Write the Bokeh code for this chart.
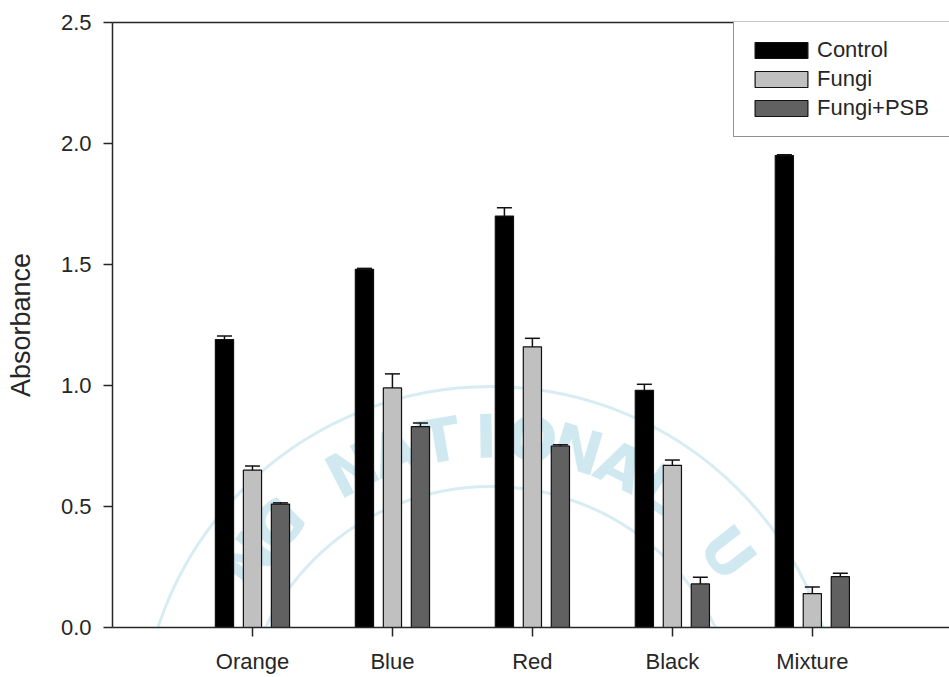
import math
from bokeh.plotting import figure
from bokeh.models import (Range1d, LinearAxis, FixedTicker, Whisker, TeeHead,
                          ColumnDataSource, Legend, LegendItem)
from bokeh.core.properties import value
from bokeh.embed import file_html
from bokeh.resources import INLINE

# Absorbance of dye solutions after treatment
dyes = ["Orange", "Blue", "Red", "Black", "Mixture"]
series_names = ["Control", "Fungi", "Fungi+PSB"]

control = [1.19, 1.48, 1.70, 0.98, 1.95]
control_err = [0.015, 0.004, 0.035, 0.025, 0.004]
fungi = [0.65, 0.99, 1.16, 0.67, 0.14]
fungi_err = [0.017, 0.058, 0.035, 0.022, 0.027]
fungi_psb = [0.51, 0.83, 0.75, 0.18, 0.21]
fungi_psb_err = [0.005, 0.015, 0.005, 0.028, 0.014]

y_ticks = [0.0, 0.5, 1.0, 1.5, 2.0, 2.5]

FONT = "Liberation Sans"
INK = "#262626"

X_END, Y_END = 5.98, 2.5
FRAME_W, FRAME_H = 837, 605

p = figure(width=949, height=677, output_backend="svg", toolbar_location=None,
           x_range=Range1d(0, X_END), y_range=Range1d(0, Y_END),
           min_border_left=112, min_border_right=0, min_border_top=22,
           min_border_bottom=50, x_axis_type=None, y_axis_type=None)
p.outline_line_color = None
p.xgrid.visible = False
p.ygrid.visible = False
p.background_fill_color = "white"
p.border_fill_color = "white"

# faint seal watermark printed behind the chart
px_x = FRAME_W / X_END
px_y = FRAME_H / Y_END
seal_cx, seal_cy = 378 / px_x, -109 / px_y
seal_r = 300
seal_text = "PUKYONG NATIONAL UNIVERSITY"
wx, wy, wl, wa = [], [], [], []
for i, ch in enumerate(seal_text):
    if ch == " ":
        continue
    th = math.radians(152.8 + 8.85 * (4 - i))
    y = seal_cy + seal_r * math.sin(th) / px_y
    if y < 0.2:          # keep only letters that sit fully inside the frame
        continue
    wx.append(seal_cx + seal_r * math.cos(th) / px_x)
    wy.append(y)
    wl.append(ch)
    wa.append(th - math.pi / 2)
for rr in (250, 350):
    p.arc(x=seal_cx, y=seal_cy, radius=rr, radius_units="screen",
          start_angle=0, end_angle=2 * math.pi, line_color="#d8ecf3",
          line_width=3, level="underlay")
p.text(x=wx, y=wy, text=wl, angle=wa, text_align="center",
       text_baseline="middle", text_font=value("DejaVu Sans"),
       text_font_style="bold", text_font_size="60px", text_color="#c4e3ee",
       text_alpha=0.8, level="underlay")

# axes
xaxis = LinearAxis(ticker=FixedTicker(ticks=list(range(1, len(dyes) + 1))),
                   major_label_overrides={i + 1: d for i, d in enumerate(dyes)})
yaxis = LinearAxis(ticker=FixedTicker(ticks=y_ticks),
                   major_label_overrides={t: f"{t:.1f}" for t in y_ticks},
                   axis_label="Absorbance")
top = LinearAxis(ticker=FixedTicker(ticks=[]))
for ax in (xaxis, yaxis, top):
    ax.axis_line_color = INK
    ax.axis_line_width = 1.5
    ax.major_tick_line_color = INK
    ax.major_tick_line_width = 1.5
    ax.major_tick_out = 9
    ax.major_tick_in = 0
    ax.minor_tick_line_color = None
    ax.major_label_text_font = FONT
    ax.major_label_text_font_size = "22px"
    ax.major_label_text_color = INK
    ax.major_label_standoff = 12
    ax.axis_label_text_font = FONT
    ax.axis_label_text_font_size = "27px"
    ax.axis_label_text_font_style = "normal"
    ax.axis_label_text_color = INK
yaxis.axis_label_standoff = 22
top.major_label_text_font_size = "0px"
top.major_tick_out = 0
p.add_layout(xaxis, "below")
p.add_layout(yaxis, "left")
p.add_layout(top, "above")

offsets = [-0.2, 0.0, 0.2]
values = [control, fungi, fungi_psb]
errors = [control_err, fungi_err, fungi_psb_err]
fills = ["#000000", "#c0c0c0", "#616161"]

items = []
for name, vals, errs, off, fill in zip(series_names, values, errors, offsets, fills):
    xs = [i + 1 + off for i in range(len(dyes))]
    src = ColumnDataSource(dict(x=xs, top=vals,
                                upper=[v + e for v, e in zip(vals, errs)]))
    r = p.vbar(x="x", top="top", width=0.13, bottom=0, source=src,
               fill_color=fill, line_color="#111111", line_width=1.2)
    wh = Whisker(base="x", lower="top", upper="upper", source=src,
                 line_color="#111111", line_width=1.5, level="overlay",
                 upper_head=TeeHead(size=15, line_color="#111111", line_width=1.5),
                 lower_head=None)
    p.add_layout(wh)
    items.append(LegendItem(label=name, renderers=[r]))

legend = Legend(items=items, location=(621, 490), orientation="vertical",
                glyph_width=66, glyph_height=20, label_height=29, label_width=150,
                label_standoff=3, spacing=0, padding=14, margin=0,
                label_text_font=FONT, label_text_font_size="22px",
                label_text_color=INK, border_line_color=INK, border_line_width=1.5,
                background_fill_color="white", background_fill_alpha=1.0)
p.add_layout(legend, "center")

open("out.html", "w").write(file_html(p, INLINE))
